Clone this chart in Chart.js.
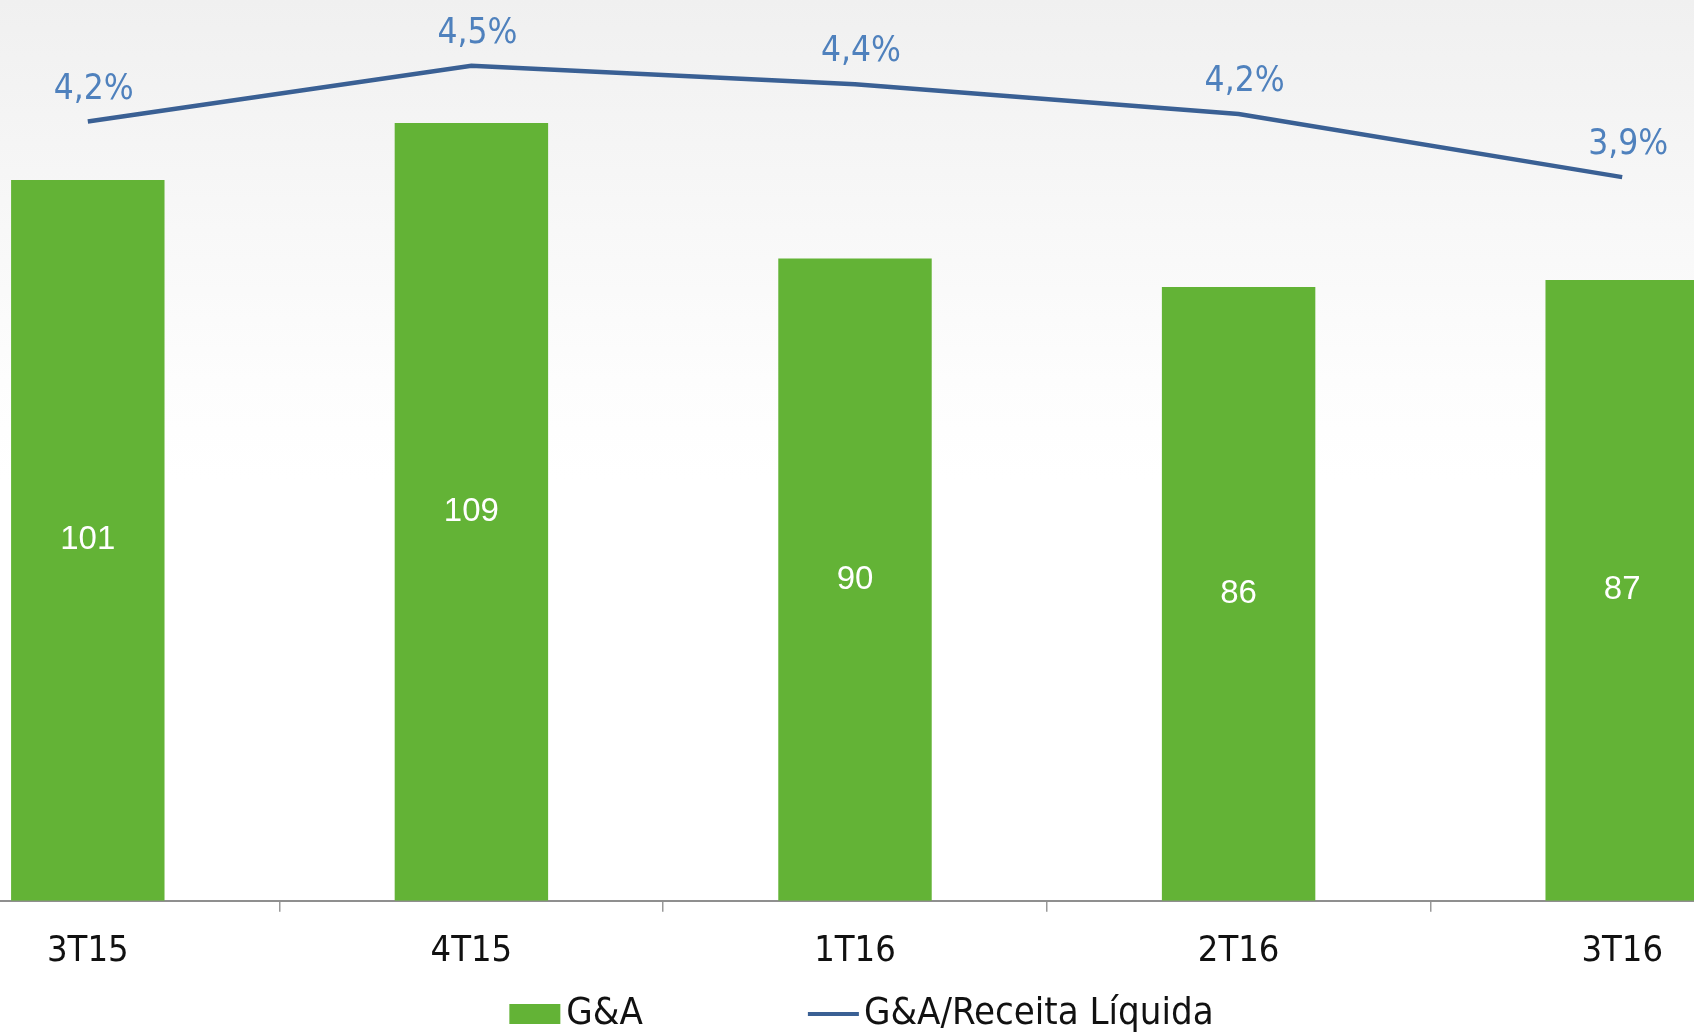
<!DOCTYPE html>
<html>
<head>
<meta charset="utf-8">
<script src="https://cdn.jsdelivr.net/npm/chart.js@4.4.1/dist/chart.umd.min.js"></script>
<style>
  html, body { margin: 0; padding: 0; width: 1694px; height: 1034px; overflow: hidden; }
  body { background: linear-gradient(to bottom, #f0f0f0 0px, #f7f7f7 200px, #fdfdfd 380px, #ffffff 480px); position: relative; }
  #wrap { position: absolute; left: -104px; top: -27px; width: 1918px; height: 1061px; }
</style>
</head>
<body>
<div id="wrap"><canvas id="c" width="1918" height="1061"></canvas></div>
<script>
const categories = ['3T15', '4T15', '1T16', '2T16', '3T16'];
const gaValues = [101, 109, 90, 86, 87];
const ratioValues = [4.2, 4.5, 4.4, 4.24, 3.9];
const seriesNames = ['G&A', 'G&A/Receita Líquida'];

const FONT = "'DejaVu Sans Condensed', 'DejaVu Sans', sans-serif";
Chart.defaults.font.family = FONT;

const labelPlugin = {
  id: 'valueLabels',
  afterDatasetsDraw(chart) {
    const ctx = chart.ctx;
    ctx.save();
    // bar values
    const barMeta = chart.getDatasetMeta(0);
    ctx.font = "33px 'Liberation Sans', Arial, sans-serif";
    ctx.fillStyle = '#ffffff';
    ctx.textAlign = 'center';
    ctx.textBaseline = 'middle';
    barMeta.data.forEach((el, i) => {
      const v = chart.data.datasets[0].data[i];
      ctx.fillText(String(v), el.x, (el.y + el.base) / 2);
    });
    // line values
    const lineMeta = chart.getDatasetMeta(1);
    ctx.font = "35px " + FONT;
    ctx.fillStyle = '#4f81bd';
    lineMeta.data.forEach((el, i) => {
      const v = chart.data.datasets[1].data[i];
      const txt = v.toFixed(1).replace('.', ',') + '%';
      ctx.fillText(txt, el.x + 6, el.y - 32);
    });
    ctx.restore();
  },
  afterDraw(chart) {
    // legend
    const ctx = chart.ctx;
    const ds = chart.data.datasets;
    ctx.save();
    ctx.font = "38px " + FONT;
    ctx.textBaseline = 'middle';
    ctx.textAlign = 'left';
    const y = chart.height - 20;
    const boxW = 51, boxH = 20, gapText = 6, gapItems = 165;
    const w0 = boxW + gapText + ctx.measureText(ds[0].label).width;
    const w1 = boxW + gapText + ctx.measureText(ds[1].label).width;
    const total = w0 + gapItems + w1;
    let x = (chart.chartArea.left + chart.chartArea.right) / 2 - total / 2 + 7;
    ctx.fillStyle = ds[0].backgroundColor;
    ctx.fillRect(x, y - boxH / 2, boxW, boxH);
    ctx.fillStyle = '#111111';
    ctx.fillText(ds[0].label, x + boxW + gapText, y);
    x += w0 + gapItems;
    ctx.strokeStyle = ds[1].borderColor;
    ctx.lineWidth = 4;
    ctx.beginPath();
    ctx.moveTo(x, y);
    ctx.lineTo(x + boxW, y);
    ctx.stroke();
    ctx.fillStyle = '#111111';
    ctx.fillText(ds[1].label, x + boxW + gapText - 1, y);
    ctx.restore();
  }
};

new Chart(document.getElementById('c'), {
  type: 'bar',
  data: {
    labels: categories,
    datasets: [
      {
        type: 'bar',
        label: seriesNames[0],
        data: gaValues,
        backgroundColor: '#63b336',
        borderWidth: 0,
        barPercentage: 0.4,
        categoryPercentage: 1.0,
        yAxisID: 'y',
        order: 1
      },
      {
        type: 'line',
        label: seriesNames[1],
        data: ratioValues,
        borderColor: '#3a6094',
        backgroundColor: '#3a6094',
        borderWidth: 4.5,
        pointRadius: 0,
        tension: 0,
        fill: false,
        yAxisID: 'y1',
        order: 0
      }
    ]
  },
  options: {
    responsive: false,
    animation: false,
    layout: { padding: { top: 0, left: 0, right: 0, bottom: 43 } },
    plugins: {
      legend: { display: false },
      tooltip: { enabled: false }
    },
    scales: {
      x: {
        offset: true,
        grid: {
          display: true,
          offset: true,
          drawOnChartArea: false,
          drawTicks: true,
          tickLength: 11,
          color: '#999999',
          lineWidth: 1.5
        },
        border: { display: true, color: '#8f8f8f', width: 2 },
        ticks: {
          color: '#111111',
          font: { size: 36 },
          padding: 18
        }
      },
      y: { display: false, min: 0, max: 130 },
      y1: { display: false, min: 0, max: 5, position: 'right' }
    }
  },
  plugins: [labelPlugin]
});
</script>
</body>
</html>
